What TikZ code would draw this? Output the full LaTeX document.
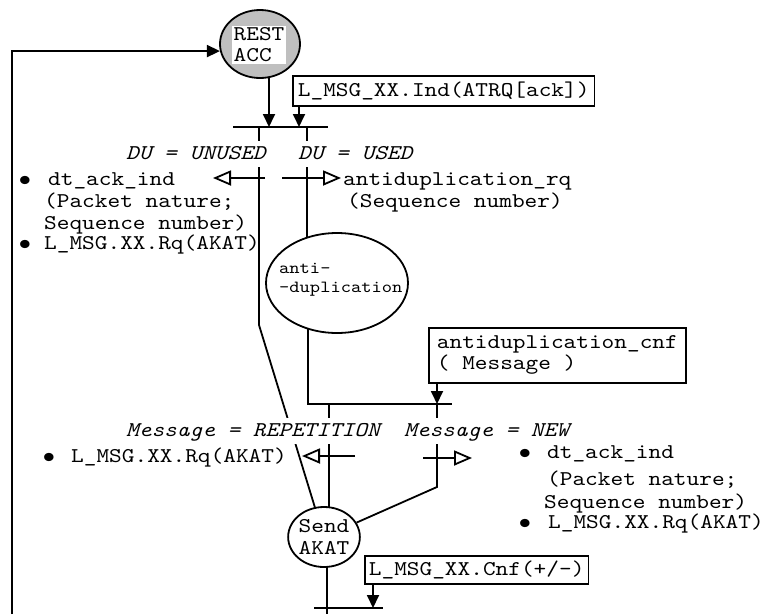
\documentclass[tikz,border=0pt]{standalone}
\usepackage{fontspec}
\usetikzlibrary{arrows.meta,shapes.geometric}
\pgfdeclarelayer{bg}
\pgfsetlayers{bg,main}
\newfontfamily\courfam{lmmono10-regular.otf}[FakeStretch=1.15]
\newfontfamily\courifam{lmmono10-italic.otf}[FakeStretch=1.15]
\newcommand{\courf}[1]{\courfam\fontsize{#1}{#1}\selectfont}
\newcommand{\couri}[1]{\courifam\fontsize{#1}{#1}\selectfont}
\begin{document}
\begin{tikzpicture}[x=1pt,y=-1pt,
  ln/.style={line width=1.8pt},
  arr/.style={ln,-{Triangle[length=13pt,width=12pt]}},
  oarr/.style={ln,-{Triangle[open,length=18pt,width=15pt]}},
  txt/.style={inner sep=0pt,anchor=base west,font=\courf{21}},
  bul/.style={inner sep=0pt,anchor=base,font=\courf{30},yshift=-2pt},
  lbl/.style={txt,font=\couri{21},fill=white,text height=15pt,text depth=5pt,inner ysep=3pt,inner xsep=1pt},
  msgbox/.style={draw,ln,fill=white,anchor=north west,font=\courf{21},align=left,inner ysep=2pt},
  state/.style={draw,ln,ellipse,fill=white,inner sep=0pt}
]
\useasboundingbox (0,0) rectangle (763,614);

% states
\node[state,fill=black!25,minimum width=80pt,minimum height=68pt] (rest) at (260,44) {};
\node[fill=white,inner sep=1.5pt,align=left,font=\courf{21}] (restt) at (259,45) {REST\\ACC};
\node[state,minimum width=142pt,minimum height=100pt] (anti) at (337,283) {};
\node[txt,font=\courf{17}] (antit1) at (279,273) {anti-};
\node[txt,font=\courf{17}] (antit2) at (279,292) {-duplication};
\node[state,minimum width=66pt,minimum height=60pt,align=center,font=\courf{21}] (send) at (324,537) {Send\\[1pt]AKAT};

% message boxes
\node[msgbox,minimum height=30pt,inner xsep=5pt] (ind) at (292,75) {L\_MSG\_XX.Ind(ATRQ[ack])};
\node[msgbox,minimum height=55pt,inner xsep=8pt] (cnf) at (428,327) {antiduplication\_cnf\\( Message )};
\node[msgbox,minimum height=28pt,inner xsep=4pt] (cnf2) at (364,555) {L\_MSG\_XX.Cnf(+/-)};

% coordinates
\coordinate (lb) at (12,614);
\coordinate (b1L) at (233,127); \coordinate (b1R) at (328,127);
\coordinate (in1) at (269,127); \coordinate (in2) at (299,127);
\coordinate (o1) at (259,127); \coordinate (o2) at (307,127);
\coordinate (k1) at (259,325);
\coordinate (b2L) at (308,404); \coordinate (b2R) at (452,404);
\coordinate (in3) at (437,404);
\coordinate (o3) at (329,404); \coordinate (o4) at (437,404);
\coordinate (k2) at (437,487);
\coordinate (b3L) at (314,608); \coordinate (b3R) at (383,608);
\coordinate (in5) at (373,608);
\coordinate (sb) at (327,614);
\coordinate (a1s) at (265,178); \coordinate (a1e) at (213,178);
\coordinate (a2s) at (282,178); \coordinate (a2e) at (341,178);
\coordinate (a3s) at (355,456); \coordinate (a3e) at (302,456);
\coordinate (a4s) at (423,458); \coordinate (a4e) at (472,458);

\begin{pgfonlayer}{bg}
\draw[arr] (lb) |- (rest.190);
\draw[arr] (rest.center -| in1) -- (in1);
\draw[arr] (ind.south -| in2) -- (in2);
\draw[ln] (b1L) -- (b1R);
\draw[ln] (o1) -- (k1) -- (send);
\draw[ln] (o2) -- (o2 |- anti.center);
\draw[ln] (anti.center -| b2L) -- (b2L) -- (b2R);
\draw[arr] (cnf.south -| in3) -- (in3);
\draw[ln] (o3) -- (o3 |- send.center);
\draw[ln] (o4) -- (k2) -- (send);
\draw[ln] (send.center -| sb) -- (sb);
\draw[ln] (b3L) -- (b3R);
\draw[arr] (cnf2.south -| in5) -- (in5);
\draw[oarr] (a1s) -- (a1e);
\draw[oarr] (a2s) -- (a2e);
\draw[oarr] (a3s) -- (a3e);
\draw[oarr] (a4s) -- (a4e);
\end{pgfonlayer}

% decision labels
\node[lbl] (du1) at (125,159) {DU = UNUSED};
\node[lbl] (du2) at (297,159) {DU = USED};
\node[lbl] (m1) at (125,436) {Message = REPETITION};
\node[lbl] (m2) at (403,436) {Message = NEW};

% texts top left
\node[bul] (tb1) at (25,185) {\textbullet};
\node[txt] (t1) at (48,185) {dt\_ack\_ind};
\node[txt] (t2) at (44,207) {(Packet nature;};
\node[txt] (t3) at (44,229) {Sequence number)};
\node[bul] (tb2) at (25,249) {\textbullet};
\node[txt] (t4) at (44,249) {L\_MSG.XX.Rq(AKAT)};

% texts top right
\node[txt] (r1) at (343,185) {antiduplication\_rq};
\node[txt] (r2) at (347,207) {(Sequence number)};

% repetition branch text
\node[bul] (pb1) at (49,462) {\textbullet};
\node[txt] (p1) at (71,462) {L\_MSG.XX.Rq(AKAT)};

% new branch texts
\node[bul] (nb1) at (525,458) {\textbullet};
\node[txt] (n1) at (547,458) {dt\_ack\_ind};
\node[txt] (n2) at (547,485) {(Packet nature;};
\node[txt] (n3) at (544,508) {Sequence number)};
\node[bul] (nb2) at (525,528) {\textbullet};
\node[txt] (n4) at (548,528) {L\_MSG.XX.Rq(AKAT)};
\end{tikzpicture}
\end{document}
